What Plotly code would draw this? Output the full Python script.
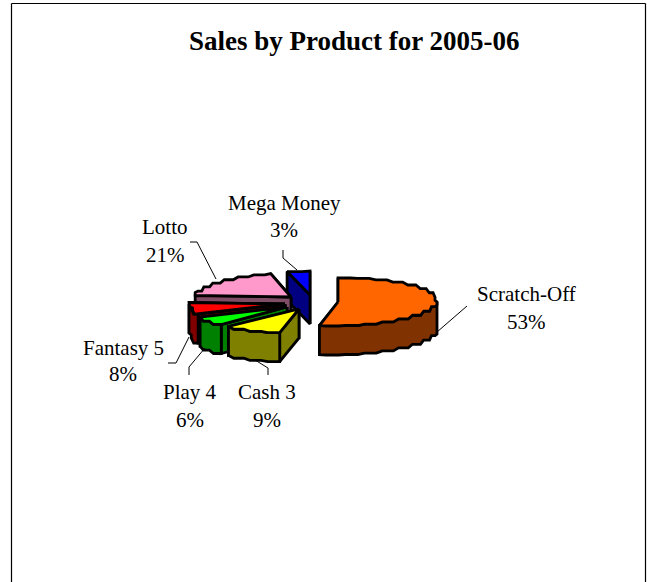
import math
import plotly.graph_objects as go

# ---- data ----
products = ["Scratch-Off", "Cash 3", "Play 4", "Fantasy 5", "Lotto", "Mega Money"]
shares = [53.0, 9.0, 6.0, 8.0, 20.6, 3.4]
title_text = "Sales by Product for 2005-06"

# ---- styling ----
top_colors = ["#FF6600", "#FFFF00", "#00FF00", "#FF0000", "#FF99CC", "#0000FF"]
side_colors = ["#803300", "#808000", "#008000", "#800000", "#804D66", "#000080"]
centers = [(338, 302), (299, 309), (287, 307), (285, 304), (291, 297), (310, 295)]
radii_x = [99, 103, 96, 96, 96, 108]
RY = 24
DEPTH = 29
LW = 2.8
FONT = "Liberation Serif"
draw_order = [5, 4, 3, 2, 1, 0]

label_pos = [(526, 294, 322), (267, 392, 420), (190, 392, 420),
             (123, 348, 374), (165, 227, 255), (284, 203, 230)]
leaders = [
    [(437, 332), (467, 306)],
    [(255, 360), (268, 368), (268, 375)],
    [(205, 348), (189, 367), (189, 375)],
    [(189, 337), (176, 363), (168, 363)],
    [(216, 279), (197, 242), (190, 242)],
    [(297, 270), (283, 258), (283, 250)],
]


def pt(c, rx, deg, dy=0):
    r = math.radians(deg)
    return c[0] + rx * math.sin(r), c[1] - RY * math.cos(r) + dy


def arc(c, rx, a, b, dy=0, step=11.0):
    """Stepped polyline of an elliptic arc, like the faceted source rendering."""
    n = max(1, int(abs(b - a) / step + 0.5))
    pts = [pt(c, rx, a + (b - a) * i / n, dy) for i in range(n + 1)]
    out = [pts[0]]
    for p, q in zip(pts, pts[1:]):
        dx, dyy = q[0] - p[0], q[1] - p[1]
        if abs(dx) > abs(dyy):
            out.append((p[0] + dx * 0.65, p[1]))
        else:
            out.append((p[0], p[1] + dyy * 0.65))
        out.append(q)
    return out


def poly(points, fill, name):
    xs = [p[0] for p in points] + [points[0][0]]
    ys = [p[1] for p in points] + [points[0][1]]
    return go.Scatter(x=xs, y=ys, mode="lines", fill="toself", fillcolor=fill,
                      line=dict(color="black", width=LW), name=name,
                      showlegend=False, hoverinfo="name")


# slice angles clockwise from twelve o'clock
total = sum(shares)
angles = []
acc = 0.0
for v in shares:
    angles.append((acc * 360 / total, (acc + v) * 360 / total))
    acc += v

fig = go.Figure()
for i in draw_order:
    a, b = angles[i]
    c, rx = centers[i], radii_x[i]
    dark, light, nm = side_colors[i], top_colors[i], products[i]
    # radial faces: the far one first, so the near one hides it
    for ang in (b, a):
        p = pt(c, rx, ang)
        fig.add_trace(poly([c, p, (p[0], p[1] + DEPTH), (c[0], c[1] + DEPTH)], dark, nm))
    # outer wall (front half only)
    lo, hi = max(a, 90), min(b, 270)
    if lo < hi:
        up = arc(c, rx, lo, hi)
        down = arc(c, rx, lo, hi, DEPTH)
        fig.add_trace(poly(up + down[::-1], dark, nm))
    # top surface
    fig.add_trace(poly([c] + arc(c, rx, a, b), light, nm))

shapes = [dict(type="line", xref="x", yref="y", x0=x0, y0=y0, x1=x1, y1=y1,
               line=dict(color="black", width=1))
          for pts in leaders for (x0, y0), (x1, y1) in zip(pts, pts[1:])]
# chart-area frame, open at the bottom of the crop
for x0, y0, x1, y1 in [(11.5, 3.5, 645.5, 3.5), (11.5, 3.5, 11.5, 582), (645.5, 3.5, 645.5, 582)]:
    shapes.append(dict(type="line", xref="x", yref="y", x0=x0, y0=y0, x1=x1, y1=y1,
                       line=dict(color="black", width=1.2)))

annotations = [dict(x=354, y=41, xref="x", yref="y", text=f"<b>{title_text}</b>", showarrow=False,
                    font=dict(family=FONT, size=27, color="black"))]
for name, v, (lx, y1, y2) in zip(products, shares, label_pos):
    annotations.append(dict(x=lx, y=y1, xref="x", yref="y", text=name, showarrow=False,
                            font=dict(family=FONT, size=21, color="black")))
    annotations.append(dict(x=lx, y=y2, xref="x", yref="y", text=f"{round(v)}%", showarrow=False,
                            font=dict(family=FONT, size=21, color="black")))

fig.update_layout(
    width=647, height=582, margin=dict(l=0, r=0, t=0, b=0),
    paper_bgcolor="white", plot_bgcolor="white", showlegend=False,
    xaxis=dict(range=[0, 647], visible=False, fixedrange=True),
    yaxis=dict(range=[582, 0], visible=False, fixedrange=True),
    shapes=shapes, annotations=annotations,
)
fig.write_html("out.html", config={"displayModeBar": False},
               post_script="document.body.style.margin='0';document.documentElement.style.overflow='hidden';")
